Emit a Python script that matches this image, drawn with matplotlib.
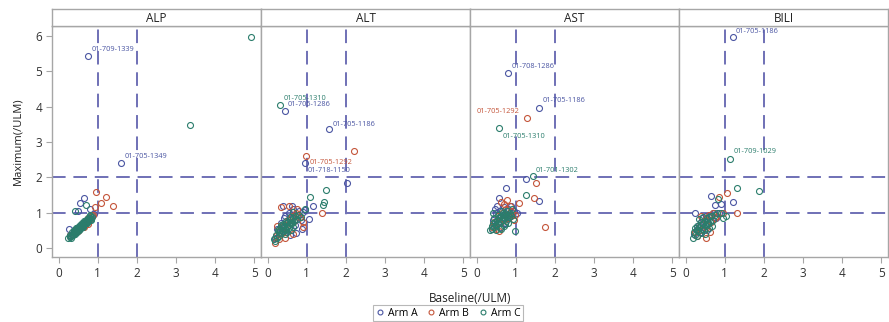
import matplotlib
matplotlib.use("Agg")
import matplotlib.pyplot as plt
from matplotlib.lines import Line2D

plt.rcParams["font.family"] = ["Open Sans", "DejaVu Sans"]

panels = ["ALP", "ALT", "AST", "BILI"]
arms = ["Arm A", "Arm B", "Arm C"]
arm_colors = ["#4A55A2", "#C4553A", "#2B7D6C"]
ref_lines = [1, 2]

# ---- ALP ----
alp_a_base = [0.27, 0.30, 0.33, 0.36, 0.40, 0.44, 0.48, 0.52, 0.55, 0.58, 0.62, 0.66, 0.70,
              0.74, 0.78, 0.82, 0.86, 0.90, 0.64, 0.55, 0.49, 0.80]
alp_a_max = [0.55, 0.33, 0.38, 0.40, 0.47, 0.50, 0.55, 0.57, 0.62, 0.66, 0.68, 0.72, 0.78,
             0.80, 0.86, 0.88, 0.93, 0.96, 1.41, 1.28, 1.06, 1.12]
alp_b_base = [0.30, 0.38, 0.45, 0.52, 0.58, 0.62, 0.68, 0.72, 0.76, 0.80, 0.84, 0.88, 0.92,
              0.50, 0.65, 0.96, 1.21, 1.39, 1.07, 0.75]
alp_b_max = [0.36, 0.42, 0.52, 0.55, 0.62, 0.70, 0.72, 0.78, 0.85, 0.82, 0.90, 0.94, 1.15,
             0.48, 0.60, 1.58, 1.46, 1.20, 1.28, 0.68]
alp_c_base = [0.25, 0.28, 0.30, 0.32, 0.34, 0.36, 0.38, 0.40, 0.42, 0.44, 0.46, 0.48, 0.50,
              0.52, 0.54, 0.56, 0.58, 0.60, 0.62, 0.64, 0.66, 0.68, 0.70, 0.72, 0.74, 0.76,
              0.78, 0.80, 0.82, 0.85, 0.35, 0.45, 0.55, 0.65, 0.75, 0.40, 0.50, 0.60, 0.70,
              0.80, 0.43, 0.53, 0.63, 0.73, 0.83, 0.31, 0.41, 0.51, 0.61, 0.71, 0.47, 0.57,
              0.67, 0.80, 0.42, 0.70, 3.36, 4.91]
alp_c_max = [0.28, 0.32, 0.36, 0.34, 0.40, 0.38, 0.45, 0.43, 0.48, 0.50, 0.47, 0.55, 0.53,
             0.58, 0.60, 0.57, 0.63, 0.66, 0.64, 0.70, 0.68, 0.74, 0.72, 0.78, 0.76, 0.80,
             0.83, 0.85, 0.82, 0.88, 0.46, 0.56, 0.66, 0.76, 0.86, 0.50, 0.60, 0.70, 0.80,
             0.92, 0.42, 0.52, 0.62, 0.72, 0.80, 0.30, 0.40, 0.50, 0.60, 0.70, 0.58, 0.65,
             0.74, 0.95, 1.05, 1.22, 3.47, 5.98]
alp_lab_id = ["01-709-1339", "01-705-1349"]
alp_lab_arm = [0, 0]
alp_lab_base = [0.76, 1.60]
alp_lab_max = [5.44, 2.42]

# ---- ALT ----
alt_a_base = [0.20, 0.25, 0.30, 0.35, 0.40, 0.45, 0.50, 0.55, 0.60, 0.65, 0.70, 0.75, 0.80,
              0.85, 0.90, 0.38, 0.48, 0.58, 0.73, 1.05, 1.16, 0.95, 0.62, 0.42, 0.88, 2.02]
alt_a_max = [0.30, 0.55, 0.42, 0.70, 0.60, 0.90, 0.75, 1.00, 0.85, 1.10, 0.65, 0.95, 1.05,
             0.80, 1.02, 1.18, 0.45, 0.38, 0.43, 0.83, 1.18, 1.08, 1.20, 0.85, 0.55, 1.85]
alt_b_base = [0.18, 0.22, 0.28, 0.32, 0.38, 0.42, 0.48, 0.52, 0.58, 0.62, 0.68, 0.72, 0.78,
              0.82, 0.90, 0.35, 0.55, 0.65, 1.38, 0.90, 2.20, 0.45, 0.25, 0.75]
alt_b_max = [0.15, 0.35, 0.25, 0.50, 0.45, 0.65, 0.55, 0.80, 0.70, 0.90, 0.78, 1.00, 0.95,
             0.88, 0.61, 1.15, 1.20, 0.40, 1.00, 0.75, 2.76, 0.30, 0.62, 1.12]
alt_c_base = [0.15, 0.20, 0.22, 0.25, 0.28, 0.30, 0.32, 0.35, 0.38, 0.40, 0.42, 0.45, 0.48,
              0.50, 0.52, 0.55, 0.58, 0.60, 0.62, 0.65, 0.68, 0.70, 0.75, 0.80, 0.85, 0.30,
              0.40, 0.50, 0.60, 0.36, 0.46, 0.56, 0.26, 0.44, 0.54, 0.34, 0.64, 0.47, 0.57,
              1.09, 1.42, 1.50, 1.45, 0.95, 0.66]
alt_c_max = [0.25, 0.20, 0.38, 0.30, 0.45, 0.35, 0.50, 0.42, 0.58, 0.48, 0.62, 0.55, 0.70,
             0.60, 0.75, 0.65, 0.80, 0.70, 0.72, 0.85, 0.78, 0.90, 0.82, 0.95, 0.88, 0.55,
             0.68, 0.45, 0.52, 0.62, 0.78, 0.88, 0.52, 0.40, 0.58, 0.66, 0.60, 0.50, 0.72,
             1.44, 1.23, 1.63, 1.30, 1.10, 1.02]
alt_lab_id = ["01-705-1310", "01-705-1286", "01-705-1186", "01-705-1292", "01-718-1150"]
alt_lab_arm = [2, 0, 0, 1, 0]
alt_lab_base = [0.32, 0.44, 1.58, 0.97, 0.95]
alt_lab_max = [4.04, 3.88, 3.36, 2.61, 2.40]

# ---- AST ----
ast_a_base = [0.38, 0.42, 0.46, 0.50, 0.55, 0.60, 0.65, 0.70, 0.75, 0.80, 0.85, 0.90, 0.95,
              0.56, 0.75, 1.60, 1.26, 0.48, 0.62, 0.72, 0.88, 1.02, 0.52]
ast_a_max = [0.55, 0.80, 0.65, 1.00, 0.75, 1.05, 0.85, 1.15, 0.95, 1.10, 0.90, 1.00, 1.05,
             1.41, 1.70, 1.32, 1.95, 1.10, 0.60, 0.70, 1.20, 1.00, 1.18]
ast_b_base = [0.40, 0.45, 0.50, 0.55, 0.60, 0.65, 0.70, 0.75, 0.80, 0.85, 0.90, 0.95, 1.07,
              1.47, 1.52, 1.75, 0.62, 0.78, 0.58, 0.70, 0.98, 0.88]
ast_b_max = [0.60, 0.75, 0.55, 0.90, 0.70, 1.00, 0.80, 1.10, 0.85, 1.20, 0.95, 0.80, 1.27,
             1.42, 1.84, 0.61, 1.30, 1.35, 0.48, 1.25, 0.95, 1.05]
ast_c_base = [0.35, 0.38, 0.40, 0.42, 0.45, 0.48, 0.50, 0.52, 0.55, 0.58, 0.60, 0.62, 0.65,
              0.68, 0.70, 0.72, 0.75, 0.78, 0.80, 0.82, 0.85, 0.88, 0.90, 0.45, 0.55, 0.65,
              0.75, 0.50, 0.60, 0.70, 0.80, 0.43, 0.63, 0.73, 0.57, 0.67, 1.26, 0.98, 0.92]
ast_c_max = [0.50, 0.62, 0.55, 0.70, 0.60, 0.75, 0.65, 0.80, 0.70, 0.85, 0.75, 0.90, 0.80,
             0.95, 0.85, 1.00, 0.90, 1.05, 0.95, 0.88, 1.00, 0.92, 1.10, 0.85, 0.95, 1.05,
             0.78, 0.52, 0.58, 0.62, 0.72, 0.98, 0.55, 0.68, 0.88, 0.98, 1.49, 0.49, 0.82]
ast_lab_id = ["01-708-1286", "01-705-1186", "01-705-1292", "01-705-1310", "01-701-1302"]
ast_lab_arm = [0, 0, 1, 2, 2]
ast_lab_base = [0.81, 1.60, 1.29, 0.58, 1.43]
ast_lab_max = [4.96, 3.97, 3.69, 3.39, 2.03]

# ---- BILI ----
bili_a_base = [0.22, 0.28, 0.33, 0.38, 0.43, 0.48, 0.53, 0.58, 0.63, 0.68, 0.73, 0.78, 0.23,
               0.65, 0.74, 1.20, 0.85, 0.55, 0.40, 0.90, 0.70]
bili_a_max = [0.40, 0.55, 0.65, 0.75, 0.85, 0.60, 0.90, 0.70, 0.95, 0.80, 0.99, 0.85, 0.99,
              1.48, 1.23, 1.30, 1.00, 0.50, 0.45, 1.25, 0.98]
bili_b_base = [0.25, 0.30, 0.35, 0.40, 0.45, 0.50, 0.55, 0.60, 0.65, 0.70, 0.75, 0.80, 1.06,
               1.30, 0.38, 0.52, 0.62, 0.85, 0.95]
bili_b_max = [0.45, 0.35, 0.60, 0.50, 0.70, 0.80, 0.65, 0.95, 0.75, 0.99, 0.85, 0.90, 1.56,
              0.99, 0.90, 0.30, 0.45, 1.45, 0.99]
bili_c_base = [0.20, 0.22, 0.25, 0.28, 0.30, 0.32, 0.35, 0.38, 0.40, 0.42, 0.45, 0.48, 0.50,
               0.52, 0.55, 0.58, 0.60, 0.62, 0.65, 0.70, 0.75, 0.80, 0.30, 0.40, 0.50, 0.60,
               0.35, 0.45, 0.55, 0.83, 1.03, 1.30, 1.88, 0.90, 0.95, 0.25, 0.68]
bili_c_max = [0.30, 0.45, 0.38, 0.52, 0.33, 0.48, 0.60, 0.42, 0.65, 0.55, 0.72, 0.50, 0.78,
              0.62, 0.85, 0.70, 0.88, 0.75, 0.92, 0.80, 0.95, 0.98, 0.62, 0.75, 0.40, 0.58,
              0.82, 0.88, 0.68, 1.39, 0.90, 1.71, 1.62, 1.00, 0.85, 0.58, 0.62]
bili_lab_id = ["01-705-1186", "01-709-1029"]
bili_lab_arm = [0, 2]
bili_lab_base = [1.20, 1.14]
bili_lab_max = [5.96, 2.53]

panel_points = [
    [(alp_a_base, alp_a_max), (alp_b_base, alp_b_max), (alp_c_base, alp_c_max)],
    [(alt_a_base, alt_a_max), (alt_b_base, alt_b_max), (alt_c_base, alt_c_max)],
    [(ast_a_base, ast_a_max), (ast_b_base, ast_b_max), (ast_c_base, ast_c_max)],
    [(bili_a_base, bili_a_max), (bili_b_base, bili_b_max), (bili_c_base, bili_c_max)],
]
panel_labels = [
    (alp_lab_id, alp_lab_arm, alp_lab_base, alp_lab_max),
    (alt_lab_id, alt_lab_arm, alt_lab_base, alt_lab_max),
    (ast_lab_id, ast_lab_arm, ast_lab_base, ast_lab_max),
    (bili_lab_id, bili_lab_arm, bili_lab_base, bili_lab_max),
]
# label text placement (pixel offsets) per panel
label_offsets = [
    [(3, 6, "left"), (3, 6, "left")],
    [(3, 7, "left"), (3, 6, "left"), (3, 5, "left"), (4, -7, "left"), (3, -7, "left")],
    [(3, 6, "left"), (3, 7, "left"), (-8, 6, "right"), (3, -8, "left"), (3, 6, "left")],
    [(3, 6, "left"), (3, 7, "left")],
]

W, H = 889, 322
fig = plt.figure(figsize=(W / 100, H / 100), dpi=100)

frame_col = "#A6A6A6"
ref_col = "#6F70B5"
left_px, right_px = 52, 888
top_px, bot_px = 26, 257
strip_top = 9
pw = (right_px - left_px) / 4

for i, name in enumerate(panels):
    x0 = left_px + i * pw
    ax = fig.add_axes([x0 / W, 1 - bot_px / H, pw / W, (bot_px - top_px) / H])
    st = fig.add_axes([x0 / W, 1 - top_px / H, pw / W, (top_px - strip_top) / H])
    st.set_xticks([])
    st.set_yticks([])
    for s in st.spines.values():
        s.set_color(frame_col)
        s.set_linewidth(1.0)
    st.text(0.5, 0.45, name, ha="center", va="center", fontsize=8.5, color="#222222",
            transform=st.transAxes)

    for v in ref_lines:
        ax.axvline(v, color=ref_col, lw=1.4, linestyle=(0, (7, 4)), zorder=1)
        ax.axhline(v, color=ref_col, lw=1.4, linestyle=(0, (7, 4)), zorder=1)

    for k, (bx, my) in enumerate(panel_points[i]):
        ax.plot(bx, my, "o", mfc="none", mec=arm_colors[k], ms=4.3, mew=0.8, zorder=2 + k)

    ids, larm, lbx, lmy = panel_labels[i]
    for j, sid in enumerate(ids):
        c = arm_colors[larm[j]]
        ax.plot(lbx[j], lmy[j], "o", mfc="none", mec=c, ms=4.3, mew=0.8, zorder=5)
        dx, dy, ha = label_offsets[i][j]
        ax.annotate(sid, (lbx[j], lmy[j]), xytext=(dx, dy), textcoords="offset pixels",
                    ha=ha, va="center", fontsize=5.3, color=c, zorder=6)

    ax.set_xlim(-0.17, 5.17)
    ax.set_ylim(-0.25, 6.28)
    ax.set_xticks(range(6))
    ax.tick_params(axis="x", direction="out", length=4, color=frame_col, labelsize=8.5,
                   labelcolor="#333333", pad=3)
    if i == 0:
        ax.set_yticks(range(7))
        ax.tick_params(axis="y", direction="out", length=4, color=frame_col, labelsize=8.5,
                       labelcolor="#333333", pad=3)
        ax.set_ylabel("Maximum(/ULM)", fontsize=8, color="#222222", labelpad=9)
    else:
        ax.set_yticks([])
    for s in ax.spines.values():
        s.set_color(frame_col)
        s.set_linewidth(1.0)

fig.text(470 / W, 1 - 298 / H, "Baseline(/ULM)", ha="center", va="center", fontsize=8.5,
         color="#222222")
handles = [Line2D([], [], ls="none", marker="o", mfc="none", mec=c, ms=3.5, mew=0.8)
           for c in arm_colors]
leg = fig.legend(handles, arms, loc="center", bbox_to_anchor=(448 / W, 1 - 313 / H), ncol=3,
                 fontsize=7.5, frameon=True, fancybox=False, handlelength=0.8,
                 handletextpad=0.4, columnspacing=0.9, borderpad=0.25, borderaxespad=0)
leg.get_frame().set_edgecolor(frame_col)
leg.get_frame().set_linewidth(0.8)

fig.savefig("out.png", dpi=100)
